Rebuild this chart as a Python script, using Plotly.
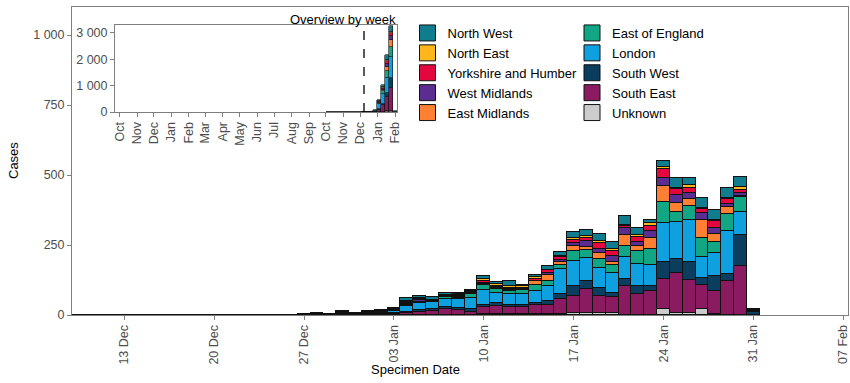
import pandas as pd
import plotly.graph_objects as go

# ---------------- data ----------------
start_date = "2020-12-09"
end_date = "2021-01-31"
dates = pd.date_range(start_date, end_date, freq="D")

region_names = ["Unknown", "South East", "South West", "London", "East of England",
                "East Midlands", "West Midlands", "Yorkshire and Humber", "North East", "North West"]
region_colors = ["#CCCCCC", "#8A1B61", "#0A3D5E", "#0FA0DF", "#13A685",
                 "#FF8033", "#5C2D91", "#E4063F", "#FDB71A", "#107D8F"]
legend_column = ["legend2", "legend2", "legend2", "legend2", "legend2",
                 "legend", "legend", "legend", "legend", "legend"]
legend_rank = [5, 4, 3, 2, 1, 5, 4, 3, 2, 1]

# daily counts: 23 values for 9-31 Dec, then 31 values for 1-31 Jan
north_west = [0]*15 + [1, 0, 0, 0, 2, 0, 6, 2] + \
    [3, 4, 4, 10, 8, 12, 6, 5, 6, 12, 8, 16, 5, 9, 14, 12, 21, 24, 27, 27, 30, 25, 11, 23, 33, 24, 36, 34, 36, 36, 4]
north_east = [0]*23 + \
    [0, 0, 0, 3, 3, 2, 2, 2, 2, 4, 5, 6, 5, 6, 3, 6, 6, 6, 6, 5, 4, 6, 10, 6, 4, 9, 6, 6, 6, 9, 0]
yorkshire = [0]*23 + \
    [2, 0, 2, 4, 5, 2, 2, 5, 3, 8, 5, 6, 4, 6, 9, 8, 12, 12, 21, 21, 10, 17, 18, 30, 23, 18, 14, 24, 16, 10, 0]
west_midlands = [0]*23 + \
    [0, 2, 2, 4, 4, 2, 2, 3, 3, 4, 4, 4, 2, 3, 6, 10, 9, 20, 15, 21, 22, 16, 24, 30, 27, 24, 25, 21, 10, 12, 0]
east_midlands = [0]*23 + \
    [0, 0, 0, 2, 2, 0, 0, 5, 2, 3, 3, 3, 2, 12, 24, 8, 21, 12, 21, 8, 42, 18, 38, 56, 32, 24, 63, 30, 26, 4, 0]
east_of_england = [0]*23 + \
    [0, 0, 0, 4, 4, 2, 8, 4, 12, 18, 12, 10, 15, 22, 16, 16, 35, 28, 32, 30, 39, 45, 57, 78, 36, 50, 68, 39, 62, 52, 5]
london = [0, 0, 1, 0, 1, 0, 0, 1, 0, 1, 0, 0, 1, 0, 0, 0, 0, 1, 0, 1, 0, 3, 2] + \
    [3, 4, 10, 22, 24, 24, 30, 32, 42, 54, 38, 39, 39, 42, 54, 89, 90, 83, 70, 70, 77, 80, 78, 138, 133, 150, 75, 81, 153, 85, 3]
south_west = [0, 0, 0, 0, 0, 0, 1, 0, 0, 0, 0, 0, 0, 0, 0, 0, 0, 0, 1, 3, 2, 4, 3] + \
    [4, 5, 3, 5, 6, 6, 8, 6, 8, 6, 10, 6, 8, 8, 14, 19, 34, 28, 30, 14, 27, 27, 15, 61, 50, 63, 24, 53, 26, 110, 10]
south_east = [0, 1, 0, 1, 0, 1, 0, 0, 1, 0, 0, 1, 0, 0, 1, 0, 0, 0, 1, 0, 2, 3, 1] + \
    [2, 3, 3, 6, 12, 16, 20, 18, 12, 28, 30, 28, 26, 34, 34, 52, 62, 86, 62, 60, 102, 75, 87, 108, 144, 120, 86, 85, 120, 174, 0]
unknown = [0]*23 + \
    [0, 0, 0, 0, 0, 0, 0, 0, 0, 2, 2, 2, 2, 2, 2, 4, 6, 6, 6, 6, 0, 0, 0, 20, 6, 6, 22, 2, 0, 0, 0]

region_values = [unknown, south_east, south_west, london, east_of_england,
                 east_midlands, west_midlands, yorkshire, north_east, north_west]

# small weekly counts before the daily window (weeks starting Sunday)
prior_weeks = ["2020-10-04", "2020-10-11", "2020-10-18", "2020-10-25", "2020-11-01",
               "2020-11-08", "2020-11-15", "2020-11-22", "2020-11-29"]
prior_values = [3, 2, 4, 3, 5, 4, 6, 5, 4]

main_tick_dates = ["2020-12-13", "2020-12-20", "2020-12-27", "2021-01-03", "2021-01-10",
                   "2021-01-17", "2021-01-24", "2021-01-31", "2021-02-07"]
main_tick_text = ["13 Dec", "20 Dec", "27 Dec", "03 Jan", "10 Jan", "17 Jan", "24 Jan", "31 Jan", "07 Feb"]
y_ticks = [0, 250, 500, 750, 1000]
y_tick_text = ["0", "250", "500", "750", "1 000"]

inset_tick_dates = pd.date_range("2019-10-01", "2021-02-01", freq="MS")
inset_tick_text = [d.strftime("%b") for d in inset_tick_dates]
inset_y_ticks = [0, 1000, 2000, 3000]
inset_y_text = ["0", "1 000", "2 000", "3 000"]

# ---------------- geometry (pixels) ----------------
W, H = 850, 383
ML, MR, MT, MB = 72, 2, 7, 68
PW, PH = W - ML - MR, H - MT - MB


def px_x(px):
    return (px - ML) / PW


def px_y(py):
    return (H - MB - py) / PH


FONT = "Liberation Sans, Arial, sans-serif"
TICK_COL = "#4D4D4D"
LINE_COL = "#7F7F7F"
DAY_MS = 86400000

# weekly aggregation for the inset
df = pd.DataFrame({n: v for n, v in zip(region_names, region_values)}, index=dates)
week_start = dates - pd.to_timedelta((dates.weekday + 1) % 7, unit="D")
weekly = df.groupby(week_start).sum()

fig = go.Figure()

for name, col, vals in zip(region_names, region_colors, region_values):
    fig.add_trace(go.Bar(
        x=dates, y=vals, name=name, width=DAY_MS,
        marker=dict(color=col, line=dict(color="#111111", width=1)),
        showlegend=False, xaxis="x", yaxis="y"))

# inset
fig.add_trace(go.Bar(
    x=pd.to_datetime(prior_weeks), y=prior_values, width=7 * DAY_MS,
    marker=dict(color=region_colors[3], line=dict(color="#111111", width=0.6)),
    showlegend=False, xaxis="x2", yaxis="y2"))
for name, col in zip(region_names, region_colors):
    fig.add_trace(go.Bar(
        x=weekly.index, y=weekly[name], width=7 * DAY_MS,
        marker=dict(color=col, line=dict(color="#111111", width=0.6)),
        showlegend=False, xaxis="x2", yaxis="y2"))

# legend entries (two columns)
for name, col, leg, rank in zip(region_names, region_colors, legend_column, legend_rank):
    fig.add_trace(go.Scatter(
        x=[None], y=[None], mode="markers", name=name, legend=leg, legendrank=rank,
        marker=dict(symbol="square", size=16, color=col, line=dict(color="#111111", width=1)),
        xaxis="x", yaxis="y"))

axis_common = dict(showline=True, mirror=True, linecolor=LINE_COL, linewidth=1,
                   showgrid=False, zeroline=False, ticks="outside", ticklen=4,
                   automargin=False, ticklabeloverflow="allow",
                   tickcolor=LINE_COL, tickfont=dict(family=FONT, size=12.5, color=TICK_COL))

legend_common = dict(orientation="v", xanchor="left", yanchor="top", traceorder="normal",
                     font=dict(family=FONT, size=13, color="black"),
                     bgcolor="rgba(0,0,0,0)", borderwidth=0)

fig.update_layout(
    width=W, height=H,
    margin=dict(l=ML, r=MR, t=MT, b=MB, autoexpand=False),
    paper_bgcolor="white", plot_bgcolor="white",
    barmode="stack", bargap=0,
    font=dict(family=FONT, size=13, color="black"),
    xaxis=dict(domain=[0, 1], type="date", range=["2020-12-08 22:00", "2021-02-07 09:00"],
               tickvals=main_tick_dates, ticktext=main_tick_text, tickangle=-90,
               anchor="y", **axis_common),
    yaxis=dict(domain=[0, 1], range=[0, 1100], tickvals=y_ticks, ticktext=y_tick_text,
               anchor="x", **axis_common),
    xaxis2=dict(domain=[px_x(115), px_x(397)], type="date",
                range=["2019-09-23", "2021-02-04"],
                tickvals=inset_tick_dates, ticktext=inset_tick_text, tickangle=-90,
                anchor="y2", **axis_common),
    yaxis2=dict(domain=[px_y(112), px_y(25)], range=[0, 3300],
                tickvals=inset_y_ticks, ticktext=inset_y_text,
                anchor="x2", **axis_common),
    legend=dict(x=px_x(407.5), y=px_y(18), **legend_common),
    legend2=dict(x=px_x(572), y=px_y(18), **legend_common),
    shapes=[dict(type="line", xref="x2", yref="y2 domain",
                 x0="2020-12-07 12:00", x1="2020-12-07 12:00", y0=0, y1=1,
                 line=dict(color="black", width=1.3, dash="dash"))],
    annotations=[
        dict(text="Cases", x=px_x(13), y=px_y(161), xref="paper", yref="paper",
             textangle=-90, showarrow=False, xanchor="center", yanchor="middle",
             font=dict(family=FONT, size=13, color="black")),
        dict(text="Specimen Date", x=px_x(415), y=px_y(369), xref="paper", yref="paper",
             showarrow=False, xanchor="center", yanchor="middle",
             font=dict(family=FONT, size=13, color="black")),
        dict(text="Overview by week", x=px_x(398), y=px_y(19), xref="paper", yref="paper",
             showarrow=False, xanchor="right", yanchor="middle",
             font=dict(family=FONT, size=13, color="black")),
    ],
)

fig.write_html("out.html", config={"displayModeBar": False},
               post_script="document.body.style.margin='0';document.body.style.padding='0';")
